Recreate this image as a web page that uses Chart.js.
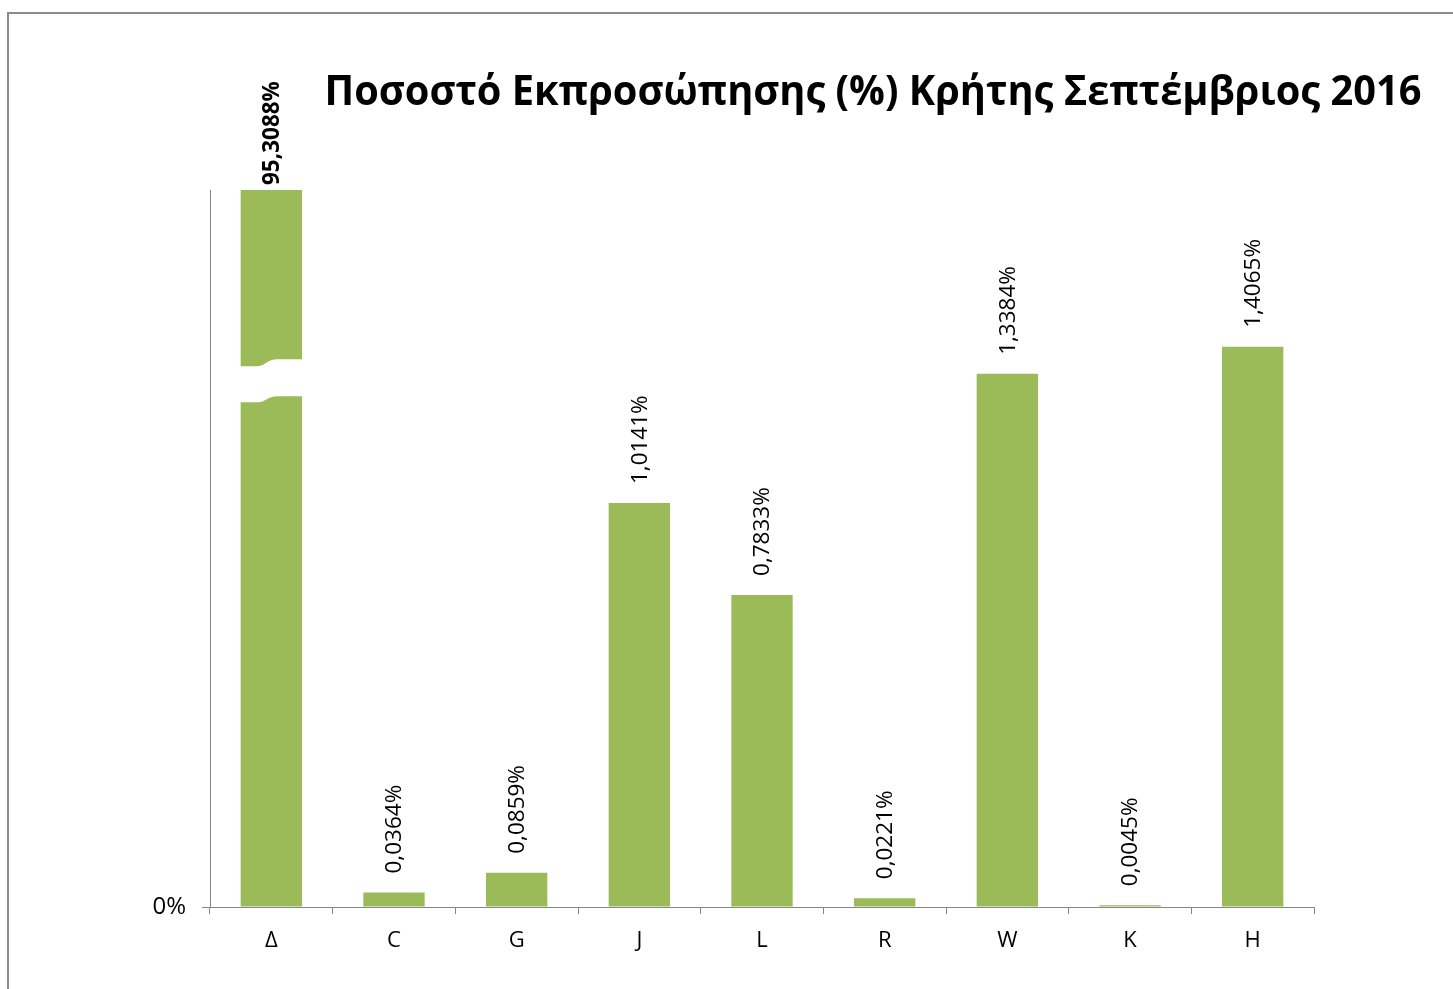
<!DOCTYPE html>
<html>
<head>
<meta charset="utf-8">
<script src="https://cdn.jsdelivr.net/npm/chart.js@4/dist/chart.umd.min.js"></script>
<style>
html,body{margin:0;padding:0;background:#fff;}
#wrap{width:1453px;height:989px;position:relative;}
</style>
</head>
<body>
<div id="wrap"><canvas id="c" width="1453" height="989"></canvas></div>
<script>
const titleText = 'Ποσοστό Εκπροσώπησης (%) Κρήτης Σεπτέμβριος 2016';
const categories = ['Δ', 'C', 'G', 'J', 'L', 'R', 'W', 'K', 'H'];
const values = [95.3088, 0.0364, 0.0859, 1.0141, 0.7833, 0.0221, 1.3384, 0.0045, 1.4065];
const valueLabels = ['95,3088%', '0,0364%', '0,0859%', '1,0141%', '0,7833%', '0,0221%', '1,3384%', '0,0045%', '1,4065%'];
const yMax = 1.8;
const breakValue = 1.32;
const yTickValues = [0];
const yTickLabels = ['0%'];

const FONT = "'Open Sans', 'Noto Sans', sans-serif";
const GREEN = '#9BBB59';
const AXIS = '#868686';

const framePlugin = {
  id: 'frame',
  beforeDraw(chart) {
    const ctx = chart.ctx;
    ctx.save();
    ctx.fillStyle = '#fff';
    ctx.fillRect(0, 0, chart.width, chart.height);
    ctx.strokeStyle = '#8c8c8c';
    ctx.lineWidth = 2;
    ctx.strokeRect(8, 13, 3000, 3000);
    ctx.restore();
  }
};

const titlePlugin = {
  id: 'myTitle',
  afterDraw(chart) {
    const ctx = chart.ctx;
    ctx.save();
    ctx.fillStyle = '#000';
    ctx.font = "bold 41px " + FONT;
    const w = ctx.measureText(titleText).width;
    const target = 1097;
    const sx = Math.min(1, target / w);
    ctx.translate(873, 105);
    ctx.scale(sx, 1);
    ctx.textAlign = 'center';
    ctx.textBaseline = 'alphabetic';
    ctx.fillText(titleText, 0, 0);
    ctx.restore();
  }
};

const breakPlugin = {
  id: 'breakMark',
  afterDatasetsDraw(chart) {
    const meta = chart.getDatasetMeta(0);
    const bar = meta.data[0];
    const ys = chart.scales.y;
    const cy = ys.getPixelForValue(breakValue);
    const x0 = bar.x - bar.width / 2 - 1;
    const x1 = bar.x + bar.width / 2 + 1;
    const xm = bar.x;
    const ctx = chart.ctx;
    ctx.save();
    ctx.fillStyle = '#fff';
    ctx.beginPath();
    ctx.moveTo(x0, cy - 15);
    ctx.lineTo(xm - 14, cy - 15);
    ctx.bezierCurveTo(xm - 4, cy - 16, xm - 6, cy - 22, xm + 8, cy - 22);
    ctx.lineTo(x1, cy - 22);
    ctx.lineTo(x1, cy + 15);
    ctx.lineTo(xm + 8, cy + 15);
    ctx.bezierCurveTo(xm - 6, cy + 15, xm - 4, cy + 21, xm - 14, cy + 21);
    ctx.lineTo(x0, cy + 21);
    ctx.closePath();
    ctx.fill();
    ctx.restore();
  }
};

const labelPlugin = {
  id: 'valLabels',
  afterDatasetsDraw(chart) {
    const meta = chart.getDatasetMeta(0);
    const ctx = chart.ctx;
    const top = chart.chartArea.top;
    meta.data.forEach((bar, i) => {
      const yTop = Math.max(bar.y, top);
      const clipped = bar.y < top;
      const gap = clipped ? 5 : 19;
      ctx.save();
      ctx.translate(bar.x, yTop - gap);
      ctx.rotate(-Math.PI / 2);
      ctx.fillStyle = '#000';
      ctx.font = (clipped ? 'bold ' : '') + '22.5px ' + FONT;
      ctx.textAlign = 'left';
      ctx.textBaseline = 'middle';
      ctx.fillText(valueLabels[i], 0, 1);
      ctx.restore();
    });
  }
};

new Chart(document.getElementById('c'), {
  type: 'bar',
  data: {
    labels: categories,
    datasets: [{
      data: values,
      backgroundColor: GREEN,
      borderWidth: 0,
      categoryPercentage: 1.0,
      barPercentage: 0.5,
      clip: 0
    }]
  },
  options: {
    responsive: false,
    animation: false,
    devicePixelRatio: 1,
    layout: { padding: { left: 0, right: 139, top: 190, bottom: 32 } },
    plugins: {
      legend: { display: false },
      title: { display: false },
      tooltip: { enabled: false }
    },
    scales: {
      x: {
        type: 'category',
        offset: true,
        grid: {
          display: true,
          offset: true,
          drawOnChartArea: false,
          drawTicks: true,
          tickLength: 7,
          color: AXIS,
          lineWidth: 1
        },
        border: { display: true, color: AXIS, width: 1 },
        ticks: {
          color: '#000',
          font: { family: FONT, size: 22 },
          padding: 14,
          maxRotation: 0,
          autoSkip: false
        },
        afterFit(scale) { scale.height = 50; }
      },
      y: {
        min: 0,
        max: yMax,
        grid: {
          display: true,
          drawOnChartArea: false,
          drawTicks: true,
          tickLength: 8,
          color: AXIS,
          lineWidth: 1
        },
        border: { display: true, color: AXIS, width: 1 },
        ticks: {
          color: '#000',
          font: { family: FONT, size: 24 },
          padding: 16,
          callback(value) {
            const idx = yTickValues.indexOf(value);
            return idx >= 0 ? yTickLabels[idx] : '';
          }
        },
        afterBuildTicks(scale) {
          scale.ticks = yTickValues.map(v => ({ value: v }));
        },
        afterFit(scale) { scale.width = 210; }
      }
    }
  },
  plugins: [framePlugin, titlePlugin, breakPlugin, labelPlugin]
});
</script>
</body>
</html>
